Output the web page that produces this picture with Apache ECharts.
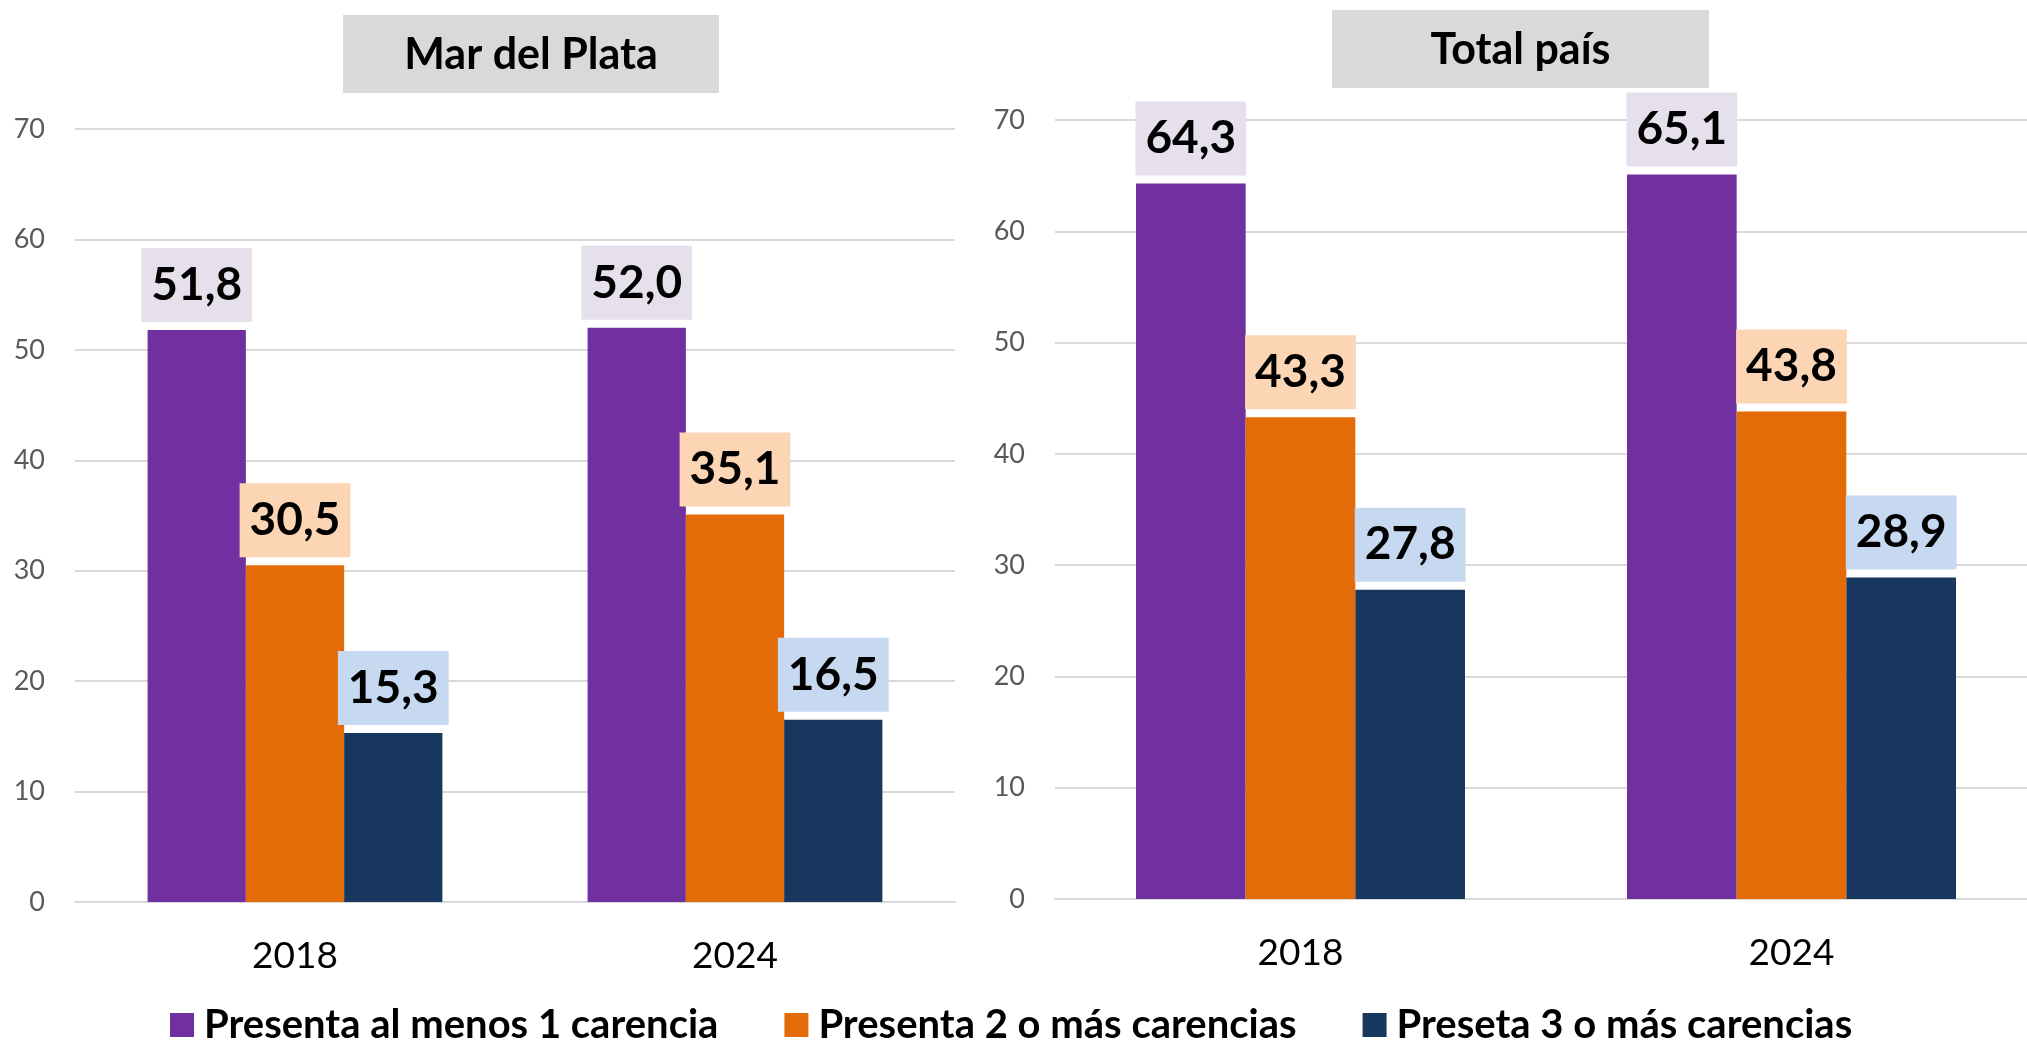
<!DOCTYPE html>
<html><head><meta charset="utf-8">
<script src="https://cdn.jsdelivr.net/npm/echarts@6/dist/echarts.min.js"></script>
<style>html,body{margin:0;padding:0;background:#fff}#c{width:2027px;height:1041px}</style>
</head><body><div id="c"></div>
<script>
const years = ['2018', '2024'];
const seriesNames = ['Presenta al menos 1 carencia', 'Presenta 2 o más carencias', 'Preseta 3 o más carencias'];
const mdpAlMenos1 = [51.8, 52.0];
const mdp2oMas = [30.5, 35.1];
const mdp3oMas = [15.3, 16.5];
const paisAlMenos1 = [64.3, 65.1];
const pais2oMas = [43.3, 43.8];
const pais3oMas = [27.8, 28.9];
const yMin = 0, yMax = 70, yInterval = 10;
const panelTitles = ['Mar del Plata', 'Total país'];

const barColors = ['#7030A0', '#E36C09', '#17375E'];
const labelBg = ['#E6E0EC', '#FCD5B5', '#C6D9F1'];
const FF = 'Lato, "Open Sans", sans-serif';

const chart = echarts.init(document.getElementById('c'), null, {renderer: 'canvas'});

function mkSeries(name, data, idx, axisIdx) {
  return {
    type: 'bar', name: name, data: data,
    xAxisIndex: axisIdx, yAxisIndex: axisIdx,
    barGap: '0%', barCategoryGap: '33%',
    itemStyle: {color: barColors[idx]},
    label: {
      show: true, position: 'top', distance: 8,
      formatter: p => Number(p.value).toFixed(1).replace('.', ','),
      fontFamily: FF, fontWeight: 'bold', fontSize: 46, color: '#000',
      backgroundColor: labelBg[idx], padding: [10, 10], lineHeight: 54
    },
    emphasis: {disabled: true}
  };
}

function mkY(gi) {
  return {
    type: 'value', gridIndex: gi, min: yMin, max: yMax, interval: yInterval,
    axisLine: {show: false}, axisTick: {show: false},
    axisLabel: {fontFamily: FF, fontSize: 27, color: '#595959', margin: 30},
    splitLine: {lineStyle: {color: '#D9D9D9', width: 2}}
  };
}
function mkX(gi) {
  return {
    type: 'category', gridIndex: gi, data: years,
    axisTick: {show: false},
    axisLine: {lineStyle: {color: '#D9D9D9', width: 2}},
    axisLabel: {fontFamily: FF, fontSize: 37, color: '#000', margin: 36}
  };
}
function mkTitle(left, top, w, h, text) {
  return {
    type: 'group', left: left, top: top,
    children: [
      {type: 'rect', shape: {x: 0, y: 0, width: w, height: h}, style: {fill: '#D9D9D9'}},
      {type: 'text', x: w / 2, y: h / 2 + 1, style: {text: text, font: 'bold 43px ' + FF, fill: '#000', align: 'center', verticalAlign: 'middle'}}
    ]
  };
}

chart.setOption({
  animation: false,
  backgroundColor: '#fff',
  grid: [
    {left: 75, top: 129, width: 880, height: 773, outerBoundsMode: 'none', containLabel: false},
    {left: 1055, top: 120, width: 982, height: 779, outerBoundsMode: 'none', containLabel: false}
  ],
  xAxis: [mkX(0), mkX(1)],
  yAxis: [mkY(0), mkY(1)],
  legend: {
    data: seriesNames, left: 165, top: 1000,
    icon: 'rect', itemWidth: 24, itemHeight: 24, itemGap: 66,
    textStyle: {fontFamily: FF, fontWeight: 'bold', fontSize: 40, color: '#000', padding: [0, 0, 0, 5]}
  },
  graphic: [
    mkTitle(343, 15, 376, 78, panelTitles[0]),
    mkTitle(1332, 10, 377, 78, panelTitles[1])
  ],
  series: [
    mkSeries(seriesNames[0], mdpAlMenos1, 0, 0),
    mkSeries(seriesNames[1], mdp2oMas, 1, 0),
    mkSeries(seriesNames[2], mdp3oMas, 2, 0),
    mkSeries(seriesNames[0], paisAlMenos1, 0, 1),
    mkSeries(seriesNames[1], pais2oMas, 1, 1),
    mkSeries(seriesNames[2], pais3oMas, 2, 1)
  ]
});
</script></body></html>
